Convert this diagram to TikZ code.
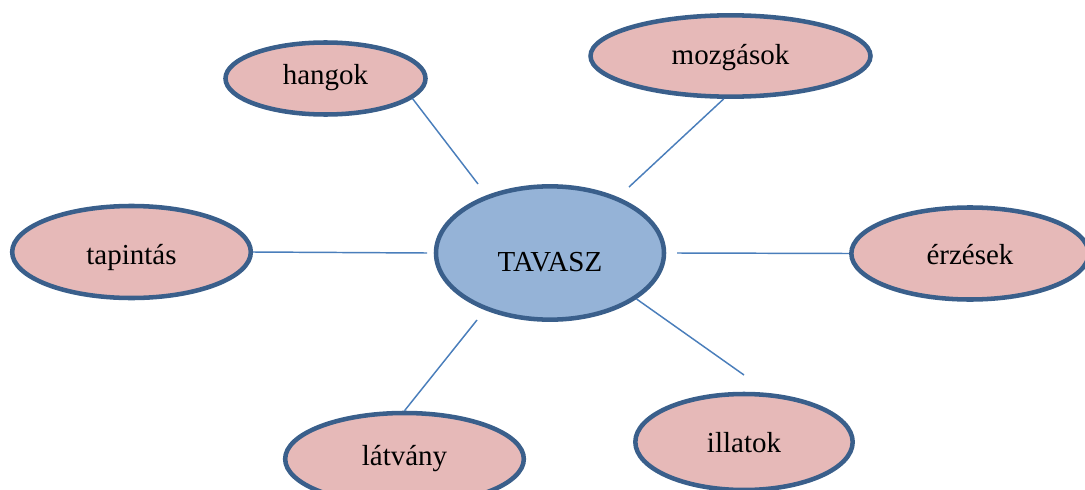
\documentclass[tikz,border=0pt]{standalone}
\usepackage{fontspec}
\setmainfont{Liberation Serif}
\usetikzlibrary{shapes.geometric}
\definecolor{rim}{HTML}{3A5F8B}
\definecolor{rose}{HTML}{E6B9B8}
\definecolor{sky}{HTML}{95B3D7}
\definecolor{spoke}{HTML}{4A7EBB}
\tikzset{
x=0.75pt, y=-0.75pt, % pixel grid of the reference, y downwards
bubble/.style={ellipse, draw=rim, line width=3.4pt, fill=rose, inner sep=0pt,
  font=\fontsize{21.75}{26}\selectfont, text depth=0pt, text height=15pt}, % outer word
hub/.style={bubble, fill=sky, text height=27pt}, % the centre word
spoke/.style={draw=spoke, line width=1.1pt}, % thin joining lines
}
\begin{document}
\begin{tikzpicture}
            \useasboundingbox (0,0) rectangle (1085,489);
            \node[hub, minimum width=171pt, minimum height=100pt] (tavasz) at (550,253) {TAVASZ};
            \node[bubble, minimum width=150pt, minimum height=54pt, text height=9pt] (hangok) at (325.5,78.5) {hangok};
            \node[bubble, minimum width=210pt, minimum height=61pt, text height=13pt] (mozgasok) at (730.5,56) {mozgások};
            \node[bubble, minimum width=179pt, minimum height=69pt, text height=19pt] (tapintas) at (131.5,252) {tapintás};
            \node[bubble, minimum width=178pt, minimum height=69pt, text height=17pt] (erzesek) at (970,253.5) {érzések};
            \node[bubble, minimum width=179pt, minimum height=69pt, text height=10pt] (latvany) at (404.5,459) {látvány};
            \node[bubble, minimum width=163pt, minimum height=72pt, text height=16pt] (illatok) at (744,442) {illatok};
            % free ends of the lines
            \coordinate (hg) at (478,184);
            \coordinate (mz) at (629,187);
            \coordinate (tp) at (427,253);
            \coordinate (er) at (677,253);
            \coordinate (lv) at (477,320);
            \coordinate (il) at (744,375);
            \draw[spoke] (hangok.-13.5) -- (hg);
            \draw[spoke] (mozgasok.-99) -- (mz);
            \draw[spoke] (tapintas.east) -- (tp);
            \draw[spoke] (erzesek.west) -- (er);
            \draw[spoke] (latvany.north) -- (lv);
            \draw[spoke] (tavasz.-28.7) -- (il);
        \end{tikzpicture}
\end{document}
